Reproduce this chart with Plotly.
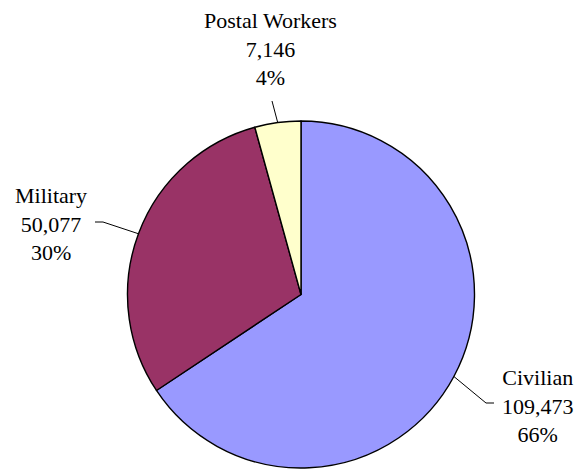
import math
import plotly.graph_objects as go

labels = ["Civilian", "Military", "Postal Workers"]
values = [109473, 50077, 7146]
percents = [66, 30, 4]
colors = ["#9999FF", "#993366", "#FFFFCC"]

W, H = 580, 474
cx, cy, r = 301, 294.5, 173.5

# label text anchors (pixels) and leader elbow points (pixels)
label_pos = [(538, 406), (51, 224), (270, 49)]
elbows = [[(486, 403), (494, 403)], [(103, 222), (95, 222)], [(272, 101)]]

def px(x):
    return x / W

def py(y):
    return 1 - y / H

fig = go.Figure(go.Pie(
    labels=labels, values=values, sort=False, direction="clockwise", rotation=0,
    marker=dict(colors=colors, line=dict(color="black", width=1.4)),
    textinfo="none", hoverinfo="label+value+percent", showlegend=False,
    domain=dict(x=[px(cx - r), px(cx + r)], y=[py(cy + r), py(cy - r)]),
))

total = sum(values)
start = 0.0
shapes = []
annotations = []
for i, v in enumerate(values):
    frac = v / total
    mid = (start + frac / 2) * 2 * math.pi
    start += frac
    ex = cx + r * math.sin(mid)
    ey = cy - r * math.cos(mid)
    pts = [(ex, ey)] + elbows[i]
    for (x0, y0), (x1, y1) in zip(pts[:-1], pts[1:]):
        shapes.append(dict(type="line", xref="paper", yref="paper",
                           x0=px(x0), y0=py(y0), x1=px(x1), y1=py(y1),
                           line=dict(color="black", width=1)))
    lx, ly = label_pos[i]
    annotations.append(dict(
        x=px(lx), y=py(ly), xref="paper", yref="paper",
        xanchor="center", yanchor="middle", showarrow=False, align="center",
        text=f"{labels[i]}<br>{values[i]:,}<br>{percents[i]}%",
        font=dict(family="Liberation Serif, Times New Roman, serif", size=22, color="black"),
    ))

fig.update_layout(
    width=W, height=H, margin=dict(l=0, r=0, t=0, b=0),
    paper_bgcolor="white", plot_bgcolor="white",
    shapes=shapes, annotations=annotations,
)

fig.write_html("out.html", config={"displayModeBar": False},
               post_script="document.body.style.margin='0';")
